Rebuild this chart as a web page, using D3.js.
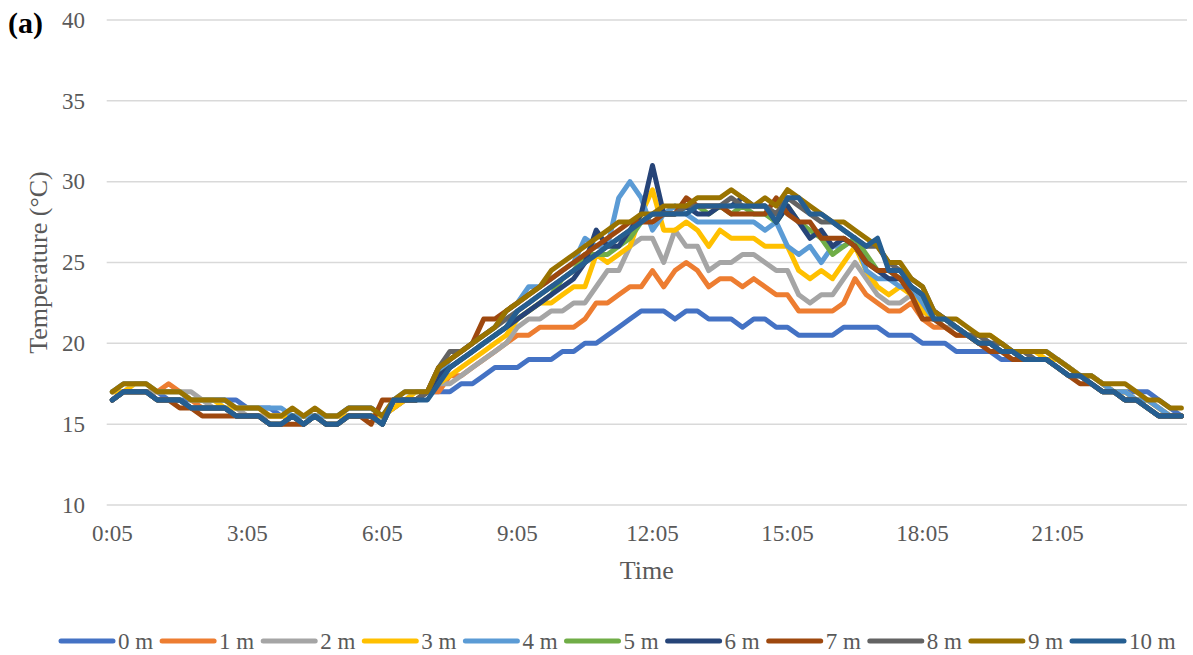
<!DOCTYPE html>
<html>
<head>
<meta charset="utf-8">
<script src="https://cdn.jsdelivr.net/npm/d3@7"></script>
<style>
  html, body { margin: 0; padding: 0; background: #fff; }
  svg { display: block; }
  text { font-family: "Times New Roman", "Liberation Serif", serif; }
</style>
</head>
<body>
<script>
// Temperature profile at depth, 15-minute readings over one day

const times = [
  "0:05","0:20","0:35","0:50","1:05","1:20","1:35","1:50","2:05","2:20","2:35","2:50",
  "3:05","3:20","3:35","3:50","4:05","4:20","4:35","4:50","5:05","5:20","5:35","5:50",
  "6:05","6:20","6:35","6:50","7:05","7:20","7:35","7:50","8:05","8:20","8:35","8:50",
  "9:05","9:20","9:35","9:50","10:05","10:20","10:35","10:50","11:05","11:20","11:35","11:50",
  "12:05","12:20","12:35","12:50","13:05","13:20","13:35","13:50","14:05","14:20","14:35","14:50",
  "15:05","15:20","15:35","15:50","16:05","16:20","16:35","16:50","17:05","17:20","17:35","17:50",
  "18:05","18:20","18:35","18:50","19:05","19:20","19:35","19:50","20:05","20:20","20:35","20:50",
  "21:05","21:20","21:35","21:50","22:05","22:20","22:35","22:50","23:05","23:20","23:35","23:50"
];

const timeTicks = ["0:05","3:05","6:05","9:05","12:05","15:05","18:05","21:05"];
const tempTicks = [10, 15, 20, 25, 30, 35, 40];

const seriesNames = ["0 m","1 m","2 m","3 m","4 m","5 m","6 m","7 m","8 m","9 m","10 m"];
const seriesColors = ["#4472C4","#ED7D31","#A5A5A5","#FFC000","#5B9BD5","#70AD47",
                      "#264478","#9E480E","#636363","#997300","#255E91"];

const d0 = [
  16.5,17,17,17,17,16.5,16.5,16.5,16.5,16.5,16.5,16.5,
  16,16,16,15.5,15.5,15.5,15.5,15.5,15.5,16,16,16,
  15.5,16,16.5,16.5,17,17,17,17.5,17.5,18,18.5,18.5,
  18.5,19,19,19,19.5,19.5,20,20,20.5,21,21.5,22,
  22,22,21.5,22,22,21.5,21.5,21.5,21,21.5,21.5,21,
  21,20.5,20.5,20.5,20.5,21,21,21,21,20.5,20.5,20.5,
  20,20,20,19.5,19.5,19.5,19.5,19,19,19,19,19,
  19,18.5,18,18,17.5,17,17,17,17,16.5,16,15.5
];
const d1 = [
  17,17,17,17,17,17.5,17,16.5,16,16,16,15.5,
  15.5,15.5,15.5,15.5,15.5,15.5,15.5,15.5,15.5,15.5,15.5,15.5,
  15.5,16,16.5,16.5,17,17,18,18,18.5,19,19.5,20,
  20.5,20.5,21,21,21,21,21.5,22.5,22.5,23,23.5,23.5,
  24.5,23.5,24.5,25,24.5,23.5,24,24,23.5,24,23.5,23,
  23,22,22,22,22,22.5,24,23,22.5,22,22,22.5,
  21.5,21,21,20.5,20.5,20,20,19.5,19.5,19,19,19,
  19,18.5,18,18,17.5,17,17,16.5,16.5,16,15.5,15.5
];
const d2 = [
  17,17,17,17,17,17,17,17,16.5,16,16,16,
  15.5,15.5,15.5,15.5,15.5,15.5,15.5,15.5,15.5,15.5,15.5,15.5,
  15.5,16,16.5,16.5,17,17.5,17.5,18,18.5,19,19.5,20,
  21,21.5,21.5,22,22,22.5,22.5,23.5,24.5,24.5,26,26.5,
  26.5,25,27,26,26,24.5,25,25,25.5,25.5,25,24.5,
  24.5,23,22.5,23,23,24,25,24,23,22.5,22.5,23,
  22,21.5,21,21,20.5,20.5,20,19.5,19.5,19.5,19,19,
  19,18.5,18,18,17.5,17,17,16.5,16.5,16,15.5,15.5
];
const d3v = [
  17,17,17.5,17.5,17,17,17,16.5,16.5,16.5,16,16,
  16,16,15.5,15.5,15.5,15.5,15.5,15.5,15.5,15.5,15.5,15.5,
  15.5,16,16.5,17,17,17.5,18,18.5,19,19.5,20,20.5,
  21.5,22,22.5,22.5,23,23.5,23.5,25.5,25,25.5,26,28,
  29.5,27,27,27.5,27,26,27,26.5,26.5,26.5,26,26,
  26,24.5,24,24.5,24,25,26,24.5,23.5,23,23.5,23,
  22,21.5,21.5,21,20.5,20.5,20.5,20,19.5,19.5,19.5,19,
  19,18.5,18,18,17.5,17,17,16.5,16.5,16,15.5,15.5
];
const d4 = [
  17,17.5,17.5,17.5,17,17,17,16.5,16.5,16.5,16.5,16,
  16,16,16,16,15.5,15.5,15.5,15.5,15.5,16,16,16,
  15.5,16.5,17,17,17,18,19,19.5,20,20.5,21,22,
  22.5,23.5,23.5,24,24.5,25,26.5,26,26,29,30,29,
  27,28,28.5,28,27.5,27.5,27.5,27.5,27.5,27.5,27,27.5,
  26,25.5,26,25,26,26,26.5,24.5,24,24,23.5,23.5,
  22.5,21.5,21.5,21,20.5,20.5,20,20,19.5,19.5,19.5,19.5,
  19,18.5,18,18,17.5,17,17,16.5,16.5,16,15.5,15.5
];
const d5 = [
  16.5,17,17,17,16.5,16.5,16.5,16,16,16,16,15.5,
  15.5,15.5,15,15,15.5,15,15.5,15,15,15.5,15.5,15.5,
  15,16.5,16.5,16.5,17,18,18.5,19,19.5,20,20.5,21,
  21.5,22,22.5,23,24,24.5,25.5,25.5,25.5,26,26.5,27.5,
  28,28,28,28.5,28.5,28,28.5,28,28.5,28,28,27.5,
  28.5,27.5,27,26.5,25.5,26,26.5,25.5,24.5,24.5,24,23.5,
  23,21.5,21.5,21,20.5,20,20,19.5,19.5,19,19,19,
  18.5,18,18,17.5,17,17,16.5,16.5,16,15.5,15.5,15.5
];
const d6 = [
  16.5,17,17,17,16.5,16.5,16.5,16,16,16,16,15.5,
  15.5,15.5,15,15,15.5,15,15.5,15,15,15.5,15.5,15.5,
  15,16.5,16.5,16.5,17,18,18.5,19,19.5,20,20.5,21,
  21.5,22,22.5,23,23.5,24,25,27,26,26,27,28,
  31,28,28,28.5,28,28,28.5,28.5,29,28.5,28.5,27.5,
  28.5,27.5,26.5,27,26,26.5,26,25,24.5,24,24,23.5,
  23,22,21.5,21,20.5,20,20,19.5,19.5,19,19,19,
  18.5,18,18,17.5,17,17,16.5,16.5,16,15.5,15.5,15.5
];
const d7 = [
  16.5,17,17,17,16.5,16.5,16,16,15.5,15.5,15.5,15.5,
  15.5,15.5,15,15,15,15,15.5,15,15,15.5,15.5,15,
  16.5,16.5,16.5,16.5,17,18.5,19,19.5,20,21.5,21.5,22,
  22.5,23,23.5,24,24.5,25,25.5,26,26.5,27,27.5,27.5,
  27.5,28,28,29,28.5,28.5,28.5,28,28,28,28,29,
  28,27.5,27.5,26.5,26.5,26.5,26,25,24.5,24.5,24,23,
  21.5,21.5,21,20.5,20.5,20,19.5,19.5,19,19,19,19,
  18.5,18,17.5,17.5,17,17,16.5,16.5,16,15.5,15.5,15.5
];
const d8 = [
  16.5,17,17,17,16.5,16.5,16.5,16,16,16,16,15.5,
  15.5,15.5,15,15,15.5,15,15.5,15,15,15.5,15.5,15.5,
  15,16.5,16.5,16.5,17,18.5,19.5,19.5,20,20.5,21,21.5,
  22,22.5,23,23.5,24,24.5,25,25.5,26,26.5,27,27.5,
  28,28,28,28.5,28.5,28.5,28.5,29,28.5,28.5,28.5,28,
  29,28.5,28,27.5,27.5,27,26.5,26,26,25,24.5,24,
  23.5,22,21.5,21,20.5,20.5,20,20,19.5,19.5,19,19,
  18.5,18,18,17.5,17,17,16.5,16.5,16,15.5,15.5,15.5
];
const d9 = [
  17,17.5,17.5,17.5,17,17,17,16.5,16.5,16.5,16.5,16,
  16,16,15.5,15.5,16,15.5,16,15.5,15.5,16,16,16,
  15.5,16.5,17,17,17,18.5,19,19.5,20,20.5,21,22,
  22.5,23,23.5,24.5,25,25.5,26,26.5,27,27.5,27.5,28,
  28,28.5,28.5,28.5,29,29,29,29.5,29,28.5,29,28.5,
  29.5,29,28.5,28,27.5,27.5,27,26.5,26,25,25,24,
  23.5,22,21.5,21.5,21,20.5,20.5,20,19.5,19.5,19.5,19.5,
  19,18.5,18,18,17.5,17.5,17.5,17,16.5,16.5,16,16
];
const d10 = [
  16.5,17,17,17,16.5,16.5,16.5,16,16,16,16,15.5,
  15.5,15.5,15,15,15.5,15,15.5,15,15,15.5,15.5,15.5,
  15,16.5,16.5,16.5,16.5,17.5,18.5,19,19.5,20,20.5,21,
  22,22.5,23,23.5,24,24.5,25,25.5,26,26.5,27,27.5,
  28,28,28,28,28.5,28.5,28.5,28.5,28.5,28.5,28.5,27.5,
  29,29,28,28,27.5,27,26.5,26,26.5,24.5,24.5,23.5,
  23,21.5,21.5,21,20.5,20,20,19.5,19.5,19,19,19,
  18.5,18,18,17.5,17,17,16.5,16.5,16,15.5,15.5,15.5
];

const seriesValues = [d0, d1, d2, d3v, d4, d5, d6, d7, d8, d9, d10];

const W = 1193, H = 655;
const plot = { left: 106.7, right: 1187, top: 20, bottom: 505 };
const textGrey = "#595959";

const svg = d3.select("body").append("svg")
  .attr("width", W).attr("height", H)
  .attr("viewBox", `0 0 ${W} ${H}`);

svg.append("rect").attr("width", W).attr("height", H).attr("fill", "#fff");

const x = d3.scalePoint().domain(times).range([plot.left, plot.right]).padding(0.5);
const y = d3.scaleLinear().domain([10, 40]).range([plot.bottom, plot.top]);

// Gridlines
svg.append("g").selectAll("line")
  .data(tempTicks)
  .join("line")
  .attr("x1", plot.left).attr("x2", plot.right)
  .attr("y1", d => y(d)).attr("y2", d => y(d))
  .attr("stroke", "#d9d9d9")
  .attr("stroke-width", 1.5);

// Y tick labels
svg.append("g").selectAll("text")
  .data(tempTicks)
  .join("text")
  .attr("x", 85)
  .attr("y", d => y(d))
  .attr("dy", "0.34em")
  .attr("text-anchor", "end")
  .attr("font-size", 23)
  .attr("fill", textGrey)
  .text(d => d);

// X tick labels
svg.append("g").selectAll("text")
  .data(timeTicks)
  .join("text")
  .attr("x", d => x(d))
  .attr("y", 541)
  .attr("text-anchor", "middle")
  .attr("font-size", 23)
  .attr("fill", textGrey)
  .text(d => d);

// Axis titles
svg.append("text")
  .attr("x", (plot.left + plot.right) / 2)
  .attr("y", 579)
  .attr("text-anchor", "middle")
  .attr("font-size", 26)
  .attr("fill", textGrey)
  .text("Time");

svg.append("text")
  .attr("transform", `translate(47, ${(plot.top + plot.bottom) / 2}) rotate(-90)`)
  .attr("text-anchor", "middle")
  .attr("font-size", 26)
  .attr("fill", textGrey)
  .text("Temperature (°C)");

// Panel label
svg.append("text")
  .attr("x", 8).attr("y", 33)
  .attr("font-size", 30)
  .attr("font-weight", "bold")
  .attr("fill", "#000")
  .text("(a)");

// Series lines, 0 m drawn first so 10 m sits on top
const line = d3.line()
  .x((d, i) => x(times[i]))
  .y(d => y(d));

svg.append("g").selectAll("path")
  .data(seriesValues)
  .join("path")
  .attr("d", line)
  .attr("fill", "none")
  .attr("stroke", (d, i) => seriesColors[i])
  .attr("stroke-width", 5)
  .attr("stroke-linejoin", "round")
  .attr("stroke-linecap", "round");

// Legend
const legendX0 = 59, legendStep = 101.1, legendY = 641;
const legend = svg.append("g").selectAll("g")
  .data(seriesNames)
  .join("g")
  .attr("transform", (d, i) => `translate(${legendX0 + i * legendStep}, ${legendY})`);

legend.append("line")
  .attr("x1", 2).attr("x2", 54)
  .attr("stroke", (d, i) => seriesColors[i])
  .attr("stroke-width", 5)
  .attr("stroke-linecap", "round");

legend.append("text")
  .attr("x", 59)
  .attr("y", 8)
  .attr("font-size", 23)
  .attr("fill", textGrey)
  .text(d => d);
</script>
</body>
</html>
